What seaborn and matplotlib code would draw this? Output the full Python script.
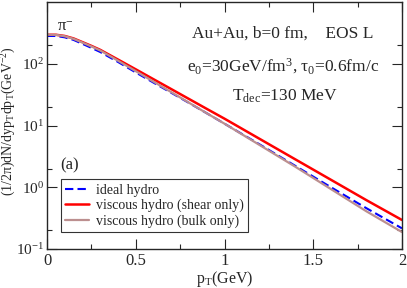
import numpy as np
import pandas as pd
import matplotlib
matplotlib.use("Agg")
import matplotlib.pyplot as plt
import seaborn as sns
from matplotlib.ticker import LogLocator, MultipleLocator, NullFormatter, FuncFormatter
from matplotlib.lines import Line2D

pt = [0.0, 0.05, 0.1, 0.15, 0.2, 0.25, 0.3, 0.4, 0.5, 0.6, 0.7, 0.8, 0.9, 1.0,
      1.2, 1.4, 1.6, 1.8, 2.0]
ideal = [282, 282, 268, 243, 210, 181, 155, 107, 72.4, 49.5, 33.9, 23.2, 15.8, 10.7,
         4.90, 2.21, 1.00, 0.457, 0.216]
shear = [295, 295, 282, 257, 224, 195, 168, 117, 81.3, 56.2, 38.9, 26.9, 18.6, 12.9,
         6.03, 2.82, 1.32, 0.617, 0.295]
bulk = [295, 294, 279, 253, 220, 191, 164, 112, 75.9, 51.3, 34.7, 23.4, 15.8, 10.7,
        4.79, 2.14, 0.933, 0.407, 0.188]

labels = ['ideal hydro', 'viscous hydro (shear only)', 'viscous hydro (bulk only)']
colors = ['#0000ff', '#ff0000', '#bc8f8f']

df = pd.concat([
    pd.DataFrame({'pt': pt, 'dn': ideal, 'case': labels[0]}),
    pd.DataFrame({'pt': pt, 'dn': shear, 'case': labels[1]}),
    pd.DataFrame({'pt': pt, 'dn': bulk, 'case': labels[2]}),
])

sns.set_style("ticks")
plt.rcParams['font.family'] = ['Liberation Serif', 'DejaVu Serif']
plt.rcParams.update({'mathtext.default': 'regular', 'font.size': 10,
                     'xtick.direction': 'in', 'ytick.direction': 'in',
                     'xtick.top': True, 'ytick.right': True,
                     'axes.linewidth': 1.0})

fig = plt.figure(figsize=(4.07, 2.88), dpi=100)
ax = fig.add_axes([0.1155, 0.1354, 0.8722, 0.8576])

sns.lineplot(data=df, x='pt', y='dn', hue='case', style='case', palette=colors,
             dashes={labels[0]: (4, 2), labels[1]: '', labels[2]: ''},
             ax=ax, legend=False)
lws = [1.5, 1.8, 1.6]
for line, lw in zip(ax.get_lines(), lws):
    line.set_linewidth(lw)

ax.set_yscale('log')
ax.set_xlim(0, 2)
ax.set_ylim(0.1, 1000)
ax.set_yticks([0.1, 1, 10, 100])
ax.set_yticklabels(['10$^{-1}$', '10$^{0}$', '10$^{1}$', '10$^{2}$'])
ax.yaxis.set_minor_locator(LogLocator(base=10, subs=[2.0]))
ax.yaxis.set_minor_formatter(NullFormatter())
ax.xaxis.set_major_locator(MultipleLocator(0.5))
ax.xaxis.set_minor_locator(MultipleLocator(0.25))
ax.xaxis.set_major_formatter(FuncFormatter(lambda v, p: f'{v:g}'))
ax.tick_params(which='major', length=7, width=0.8, labelsize=12)
ax.tick_params(axis='x', which='major', pad=3)
ax.tick_params(axis='y', which='major', pad=2, labelsize=11)
ax.tick_params(which='minor', length=3.5, width=0.8)

ax.set_xlabel('p$_T$(GeV)', fontsize=11.5, labelpad=0)
ax.set_ylabel('(1/2π)dN/dyp$_T$dp$_T$(GeV$^{-2}$)', fontsize=10)
ax.yaxis.set_label_coords(-0.082, 0.52)

ax.text(0.105, 400, 'π$^{-}$', fontsize=12, ha='center', va='center')
ax.text(0.665, 0.87, 'Au+Au, b=0 fm,    EOS L', transform=ax.transAxes,
        ha='center', va='center', fontsize=12.5)
ax.text(0.665, 0.74, 'e$_0$=30GeV/fm$^3$, τ$_0$=0.6fm/c', transform=ax.transAxes,
        ha='center', va='center', fontsize=12.5)
ax.text(0.67, 0.62, 'T$_{dec}$=130 MeV', transform=ax.transAxes,
        ha='center', va='center', fontsize=12.5)
ax.text(0.037, 0.34, '(a)', transform=ax.transAxes, ha='left', va='center', fontsize=12)

handles = [Line2D([], [], color=colors[0], lw=1.5, ls=(0, (4, 2))),
           Line2D([], [], color=colors[1], lw=1.8),
           Line2D([], [], color=colors[2], lw=1.6)]
leg = ax.legend(handles, labels, loc='lower left', bbox_to_anchor=(0.039, 0.069),
                borderaxespad=0, fontsize=10, frameon=True, fancybox=False,
                handlelength=1.7, handletextpad=0.5, labelspacing=0.15,
                borderpad=0.3)
leg.get_frame().set_edgecolor('black')
leg.get_frame().set_linewidth(0.8)

fig.savefig('out.png', dpi=100)
